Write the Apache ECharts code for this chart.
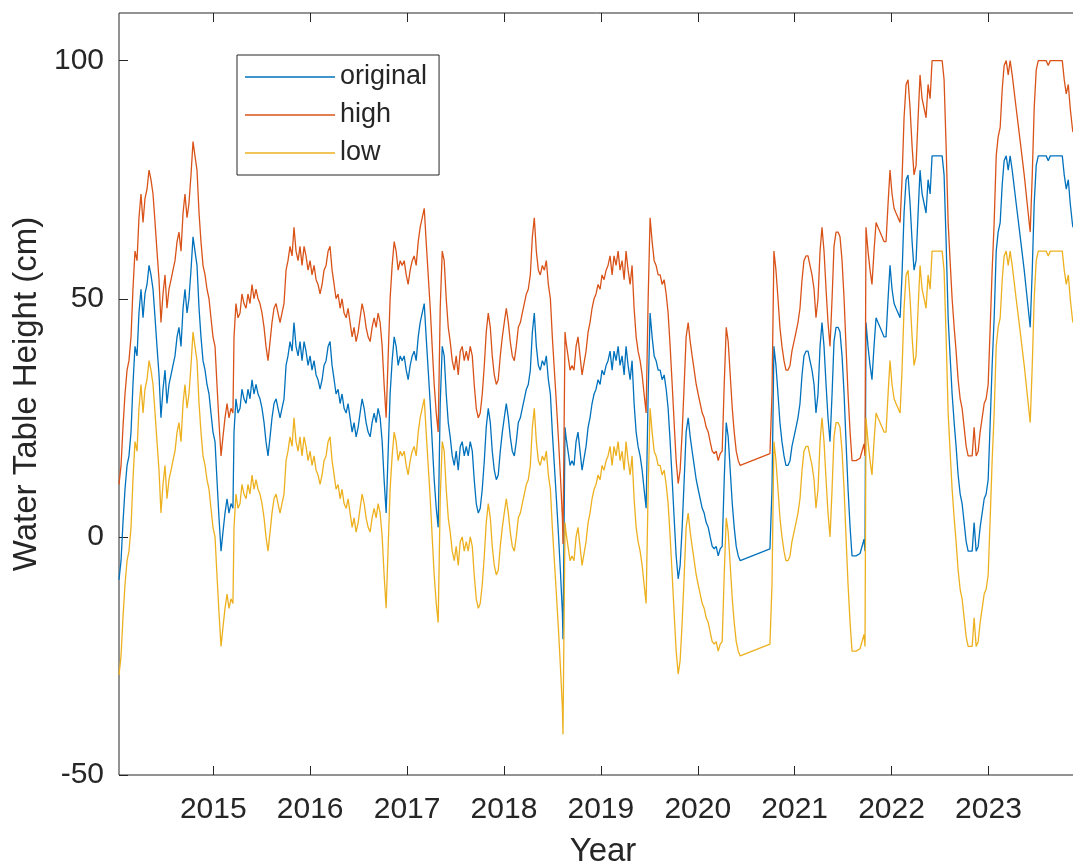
<!DOCTYPE html>
<html>
<head>
<meta charset="utf-8">
<script src="https://cdn.jsdelivr.net/npm/echarts@6.0.0/dist/echarts.min.js"></script>
<style>html,body{margin:0;padding:0;background:#fff}#c{width:1073px;height:863px}</style>
</head>
<body>
<div id="c"></div>
<script>
// decimal years
const years = [
2014.027,2014.048,2014.068,2014.089,2014.110,2014.130,2014.151,2014.171,2014.192,2014.213,2014.233,2014.254,2014.275,2014.295,2014.316,2014.337,2014.357,2014.378,2014.399,2014.419,2014.440,2014.460,2014.481,2014.502,2014.522,2014.543,2014.564,2014.584,2014.605,2014.626,2014.646,2014.667,2014.688,2014.708,2014.729,2014.749,2014.770,2014.791,2014.811,2014.832,2014.853,2014.873,2014.894,2014.915,2014.935,2014.956,2014.976,2014.997,2015.018,2015.038,2015.059,2015.080,2015.100,2015.121,2015.142,2015.162,2015.183,2015.203,
2015.214,2015.234,2015.255,2015.276,2015.296,2015.317,2015.338,2015.358,2015.379,2015.400,2015.420,2015.441,2015.462,2015.482,2015.503,2015.524,2015.544,2015.565,2015.586,2015.606,2015.627,2015.648,2015.668,2015.689,2015.709,2015.730,2015.751,2015.771,2015.792,2015.813,2015.833,2015.854,2015.875,2015.895,2015.916,2015.937,2015.957,2015.978,2015.999,
2016.019,2016.040,2016.061,2016.081,2016.102,2016.123,2016.143,2016.164,2016.185,2016.205,2016.226,2016.247,2016.267,2016.288,2016.309,2016.329,2016.350,2016.371,2016.391,2016.412,2016.433,2016.453,2016.474,2016.495,2016.515,2016.536,2016.557,2016.577,2016.598,2016.619,2016.639,2016.660,2016.681,2016.701,2016.722,2016.743,2016.763,2016.784,2016.805,2016.825,2016.846,2016.867,2016.887,2016.908,2016.929,2016.949,2016.970,2016.991,
2017.011,2017.032,2017.053,2017.073,2017.094,2017.115,2017.135,2017.156,2017.177,2017.197,2017.218,2017.239,2017.259,2017.280,2017.301,2017.321,2017.342,2017.363,2017.383,2017.404,2017.425,2017.445,2017.466,2017.487,2017.507,2017.528,2017.549,2017.569,2017.590,2017.611,2017.631,2017.652,2017.673,2017.693,2017.714,2017.735,2017.755,2017.776,2017.797,2017.817,2017.838,2017.859,2017.879,2017.900,2017.921,2017.941,2017.962,2017.983,
2018.003,2018.024,2018.045,2018.065,2018.086,2018.107,2018.127,2018.148,2018.169,2018.189,2018.210,2018.231,2018.251,2018.272,2018.293,2018.313,2018.334,2018.355,2018.375,2018.396,2018.417,2018.437,2018.458,2018.479,2018.499,2018.520,2018.541,2018.561,2018.582,2018.603,2018.609,2018.630,2018.640,2018.661,2018.682,2018.702,2018.723,2018.744,2018.764,2018.785,2018.806,2018.826,2018.847,2018.868,2018.888,2018.909,2018.930,2018.950,2018.971,2018.992,
2019.012,2019.033,2019.054,2019.074,2019.095,2019.116,2019.136,2019.157,2019.178,2019.198,2019.219,2019.240,2019.260,2019.281,2019.302,2019.322,2019.343,2019.364,2019.384,2019.405,2019.426,2019.446,2019.467,2019.488,2019.508,2019.529,2019.550,2019.570,2019.591,2019.612,2019.632,2019.653,2019.674,2019.694,2019.715,2019.736,2019.756,2019.777,2019.798,2019.818,2019.839,2019.860,2019.880,2019.901,2019.922,2019.942,2019.963,2019.984,
2020.004,2020.025,2020.046,2020.066,2020.087,2020.108,2020.128,2020.149,2020.170,2020.190,2020.211,2020.232,2020.252,2020.273,2020.294,2020.314,2020.335,2020.356,2020.376,2020.397,2020.418,2020.438,2020.745,2020.766,2020.786,2020.807,2020.828,2020.848,2020.869,2020.890,2020.910,2020.931,2020.952,2020.972,2020.993,
2021.014,2021.034,2021.055,2021.076,2021.096,2021.117,2021.138,2021.158,2021.179,2021.200,2021.220,2021.241,2021.262,2021.282,2021.303,2021.324,2021.344,2021.365,2021.386,2021.406,2021.427,2021.448,2021.468,2021.489,2021.510,2021.530,2021.551,2021.572,2021.592,2021.633,2021.675,2021.695,2021.716,2021.726,2021.736,2021.757,2021.778,2021.798,2021.819,2021.840,2021.860,2021.881,2021.902,2021.922,2021.943,2021.964,2021.984,
2022.005,2022.026,2022.046,2022.067,2022.088,2022.108,2022.129,2022.150,2022.170,2022.191,2022.212,2022.232,2022.253,2022.274,2022.294,2022.315,2022.336,2022.356,2022.377,2022.398,2022.418,2022.439,2022.460,2022.480,2022.501,2022.522,2022.542,2022.563,2022.584,2022.604,2022.625,2022.646,2022.666,2022.687,2022.708,2022.728,2022.749,2022.770,2022.790,2022.811,2022.832,2022.852,2022.873,2022.894,2022.914,2022.935,2022.956,2022.976,2022.997,
2023.018,2023.038,2023.059,2023.080,2023.100,2023.121,2023.142,2023.162,2023.183,2023.204,2023.224,2023.245,2023.286,2023.328,2023.369,2023.410,2023.431,2023.452,2023.472,2023.493,2023.514,2023.555,2023.596,2023.617,2023.638,2023.679,2023.720,2023.762,2023.782,2023.803,2023.824,2023.844,2023.865,2023.872
];

const original = [
-9,-5,3,10,15,17,22,32,40,38,47,52,46,51,53,57,55,52,46,40,34,25,31,35,28,32,34,36,38,42,44,40,48,52,47,50,56,63,60,57,48,42,37,35,32,30,26,22,20,12,4,-3,1,5,8,5,7,6,
22,29,26,27,31,29,28,31,29,33,30,32,30,29,27,24,20,17,21,25,28,29,27,25,27,29,36,38,41,39,45,40,38,41,37,41,39,36,38,
35,37,34,33,31,33,36,37,40,41,36,33,30,31,28,30,27,26,28,25,22,24,21,23,26,29,27,24,22,21,24,26,24,27,25,20,12,5,18,30,37,42,40,36,38,37,38,35,
33,36,38,39,37,42,45,47,49,42,35,28,20,12,6,2,28,40,38,30,24,21,17,15,18,14,19,20,17,19,17,20,18,12,7,5,6,10,16,23,27,24,18,14,12,13,18,22,
25,28,25,21,18,17,20,24,25,27,29,31,32,35,43,47,40,36,35,37,36,38,33,30,22,15,8,1,-7,-16,-21.5,23,21,18,15,16,15,20,22,18,14,14,19,23,25,28,30,31,33,32,
35,34,36,37,39,35,39,37,40,36,38,34,40,36,33,37,28,22,19,17,14,10,6,30,47,42,38,37,35,35,33,34,31,27,20,12,4,-4,-8.8,-6,2,12,22,25,21,18,15,12,
10,8,6,5,3,2,0,-2,-2.5,-2,-4,-2.5,-2,12,24,21,14,7,2,-2,-4,-5,-2.5,10,40,36,30,24,20,17,15,15,16,19,21,
23,25,28,34,38,39,39,37,35,32,26,30,40,45,40,32,25,20,30,41,44,44,43,38,30,20,10,2,-4,-4,-3.5,-3.5,-0.5,-3,45,40,36,33,40,46,45,44,43,42,42,50,57,
52,49,48,47,46,55,68,75,76,70,62,56,58,68,77,72,70,68,75,72,80,80,80,80,80,80,76,62,46,38,30,24,19,13,9,7,3,-1,-3,-3,-3,3,-3,-2,2,5,8,9,12,
24,36,46,60,64,66,74,79,80,77,80,77,70,63,56,48,44,56,70,78,80,80,80,79,80,80,80,80,76,73,75,70,66,65
];

const high = [
11,15,23,30,35,37,42,52,60,58,67,72,66,71,73,77,75,72,66,60,54,45,51,55,48,52,54,56,58,62,64,60,68,72,67,70,76,83,80,77,68,62,57,55,52,50,46,42,40,32,24,17,21,25,28,25,27,26,
42,49,46,47,51,49,48,51,49,53,50,52,50,49,47,44,40,37,41,45,48,49,47,45,47,49,56,58,61,59,65,60,58,61,57,61,59,56,58,
55,57,54,53,51,53,56,57,60,61,56,53,50,51,48,50,47,46,48,45,42,44,41,43,46,49,47,44,42,41,44,46,44,47,45,40,32,25,38,50,57,62,60,56,58,57,58,55,
53,56,58,59,57,62,65,67,69,62,55,48,40,32,26,22,48,60,58,50,44,41,37,35,38,34,39,40,37,39,37,40,38,32,27,25,26,30,36,43,47,44,38,34,32,33,38,42,
45,48,45,41,38,37,40,44,45,47,49,51,52,55,63,67,60,56,55,57,56,58,53,50,42,35,28,21,13,4,-1.5,43,41,38,35,36,35,40,42,38,34,34,39,43,45,48,50,51,53,52,
55,54,56,57,59,55,59,57,60,56,58,54,60,56,53,57,48,42,39,37,34,30,26,50,67,62,58,57,55,55,53,54,51,47,40,32,24,16,11.2,14,22,32,42,45,41,38,35,32,
30,28,26,25,23,22,20,18,17.5,18,16,17.5,18,32,44,41,34,27,22,18,16,15,17.5,30,60,56,50,44,40,37,35,35,36,39,41,
43,45,48,54,58,59,59,57,55,52,46,50,60,65,60,52,45,40,50,61,64,64,63,58,50,40,30,22,16,16,16.5,16.5,19.5,17,65,60,56,53,60,66,65,64,63,62,62,70,77,
72,69,68,67,66,75,88,95,96,90,82,76,78,88,97,92,90,88,95,92,100,100,100,100,100,100,96,82,66,58,50,44,39,33,29,27,23,19,17,17,17,23,17,18,22,25,28,29,32,
44,56,66,80,84,86,94,99,100,97,100,97,90,83,76,68,64,76,90,98,100,100,100,99,100,100,100,100,96,93,95,90,86,85
];

const low = [
-29,-25,-17,-10,-5,-3,2,12,20,18,27,32,26,31,33,37,35,32,26,20,14,5,11,15,8,12,14,16,18,22,24,20,28,32,27,30,36,43,40,37,28,22,17,15,12,10,6,2,0,-8,-16,-23,-19,-15,-12,-15,-13,-14,
2,9,6,7,11,9,8,11,9,13,10,12,10,9,7,4,0,-3,1,5,8,9,7,5,7,9,16,18,21,19,25,20,18,21,17,21,19,16,18,
15,17,14,13,11,13,16,17,20,21,16,13,10,11,8,10,7,6,8,5,2,4,1,3,6,9,7,4,2,1,4,6,4,7,5,0,-8,-15,-2,10,17,22,20,16,18,17,18,15,
13,16,18,19,17,22,25,27,29,22,15,8,0,-8,-14,-18,8,20,18,10,4,1,-3,-5,-2,-6,-1,0,-3,-1,-3,0,-2,-8,-13,-15,-14,-10,-4,3,7,4,-2,-6,-8,-7,-2,2,
5,8,5,1,-2,-3,0,4,5,7,9,11,12,15,23,27,20,16,15,17,16,18,13,10,2,-5,-12,-19,-27,-36,-41.5,3,1,-2,-5,-4,-5,0,2,-2,-6,-6,-1,3,5,8,10,11,13,12,
15,14,16,17,19,15,19,17,20,16,18,14,20,16,13,17,8,2,-1,-3,-6,-10,-14,10,27,22,18,17,15,15,13,14,11,7,0,-8,-16,-24,-28.8,-26,-18,-8,2,5,1,-2,-5,-8,
-10,-12,-14,-15,-17,-18,-20,-22,-22.5,-22,-24,-22.5,-22,-8,4,1,-6,-13,-18,-22,-24,-25,-22.5,-10,20,16,10,4,0,-3,-5,-5,-4,-1,1,
3,5,8,14,18,19,19,17,15,12,6,10,20,25,20,12,5,0,10,21,24,24,23,18,10,0,-10,-18,-24,-24,-23.5,-23.5,-20.5,-23,25,20,16,13,20,26,25,24,23,22,22,30,37,
32,29,28,27,26,35,48,55,56,50,42,36,38,48,57,52,50,48,55,52,60,60,60,60,60,60,56,42,26,18,10,4,-1,-7,-11,-13,-17,-21,-23,-23,-23,-17,-23,-22,-18,-15,-12,-11,-8,
4,16,26,40,44,46,54,59,60,57,60,57,50,43,36,28,24,36,50,58,60,60,60,59,60,60,60,60,56,53,55,50,46,45
];

const seriesNames = ['original', 'high', 'low'];
const xTicks = [2015, 2016, 2017, 2018, 2019, 2020, 2021, 2022, 2023];
const yTicks = [-50, 0, 50, 100];

const FONT = '"Liberation Sans", Arial, Helvetica, sans-serif';
const TXT = '#262626';
const COLORS = ['#0072BD', '#D95319', '#EDB120'];
const X_MIN = 2014.027, X_MAX = 2024.017;

const zip = arr => years.map((t, i) => [t, arr[i]]);
const tickStyle = { color: TXT, width: 1 };

const chart = echarts.init(document.getElementById('c'), null, { renderer: 'canvas' });
chart.setOption({
  animation: false,
  backgroundColor: '#ffffff',
  grid: {
    left: 119, top: 13, right: -14, bottom: 88,
    outerBoundsMode: 'none', containLabel: false,
    show: true, borderColor: TXT, borderWidth: 1, backgroundColor: 'transparent'
  },
  legend: {
    orient: 'vertical', left: 237, top: 55,
    padding: [7, 12, 7, 8], itemWidth: 90, itemHeight: 1.5, itemGap: 8,
    icon: 'rect',
    backgroundColor: '#ffffff', borderColor: TXT, borderWidth: 1, borderRadius: 0,
    textStyle: { fontFamily: FONT, fontSize: 27, color: TXT, lineHeight: 30 },
    data: seriesNames
  },
  xAxis: [{
    type: 'value', min: X_MIN, max: X_MAX, position: 'bottom',
    name: 'Year', nameLocation: 'middle', nameGap: 60,
    nameTextStyle: { fontFamily: FONT, fontSize: 33, color: TXT },
    axisLine: { show: false, onZero: false },
    axisTick: { show: true, inside: true, length: 9, customValues: xTicks, lineStyle: tickStyle },
    axisLabel: { customValues: xTicks, fontFamily: FONT, fontSize: 30, color: TXT, margin: 20, formatter: v => String(Math.round(v)) },
    splitLine: { show: false }
  }, {
    type: 'value', min: X_MIN, max: X_MAX, position: 'top',
    axisLine: { show: false, onZero: false },
    axisTick: { show: true, inside: true, length: 9, customValues: xTicks, lineStyle: tickStyle },
    axisLabel: { show: false },
    splitLine: { show: false }
  }],
  yAxis: {
    type: 'value', min: -50, max: 110, interval: 50,
    name: 'Water Table Height (cm)', nameLocation: 'middle', nameGap: 69,
    nameTextStyle: { fontFamily: FONT, fontSize: 33, color: TXT },
    axisLine: { show: false, onZero: false },
    axisTick: { show: true, inside: true, length: 9, customValues: yTicks, lineStyle: tickStyle },
    axisLabel: { customValues: yTicks, fontFamily: FONT, fontSize: 30, color: TXT, margin: 15 },
    splitLine: { show: false }
  },
  series: [original, high, low].map((arr, i) => ({
    type: 'line', name: seriesNames[i], xAxisIndex: 0, data: zip(arr),
    symbol: 'none', showSymbol: false, clip: true,
    lineStyle: { width: 1.3, color: COLORS[i] }, itemStyle: { color: COLORS[i] }
  }))
});
</script>
</body>
</html>
